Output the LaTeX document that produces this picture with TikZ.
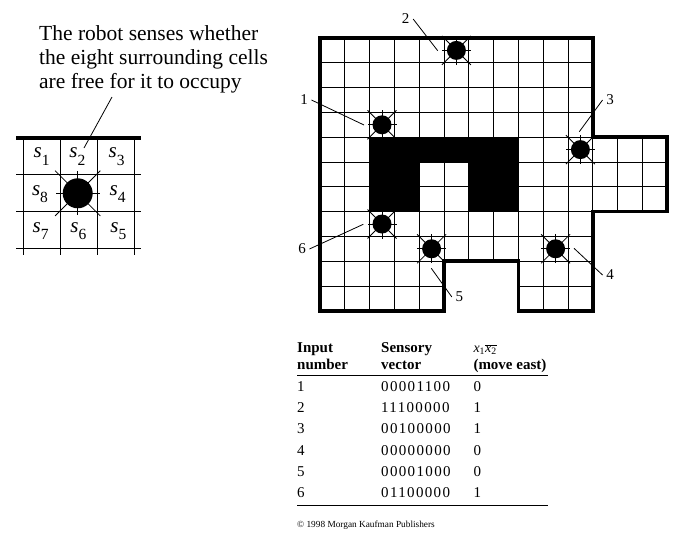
\documentclass[tikz,border=0pt]{standalone}
\usepackage{fontspec}
\setmainfont{Liberation Serif}
\newfontfamily\tablefont[LetterSpace=9]{Liberation Serif}
\usepackage{tikz}
\usetikzlibrary{positioning}

\newcommand{\sensorlab}[1]{\textit{s}\raisebox{-0.36em}{\fontsize{15.5}{15.5}\selectfont #1}}
\newcommand{\floorpath}{(0,0) -| (11,4) -| (14,7) -| (11,11) -| (8,9) -| (5,11) -| cycle}

\begin{document}
\begin{tikzpicture}[
    x=1pt, y=-1pt,
    every node/.style={font=\fontsize{15}{15}\selectfont, inner sep=0pt},
    callout/.style={font=\fontsize{21.5}{24}\selectfont, align=left, anchor=north west},
    sensor/.style={font=\fontsize{21}{21}\selectfont},
    numlab/.style={font=\fontsize{15}{15}\selectfont, inner sep=3.5pt},
    cell/.style={font=\tablefont\fontsize{15}{15}\selectfont, anchor=base west},
    head/.style={font=\bfseries\fontsize{15}{15}\selectfont, anchor=base west},
    gridline/.style={draw, line width=0.8pt},
    leader/.style={draw, line width=0.8pt},
    robot/.style={circle, fill=black, minimum size=19pt},
    bigrobot/.style={circle, fill=black, minimum size=30pt},
    rulerow/.style={draw, line width=0.9pt}
]
\useasboundingbox (0,0) rectangle (679,546);

% left panel
\node[callout] (callout) at (39,25.5) {The robot senses whether\\the eight surrounding cells\\are free for it to occupy};
\foreach \xx in {23.3,60.3,97.3,134.3}
    \draw[gridline] (\xx,137.7) -- (\xx,255);
\foreach \yy in {174.3,211.3,248.3}
    \draw[gridline] (16,\yy) -- (140.7,\yy);
\draw[line width=3.6pt] (16,137.7) -- (140.7,137.7);
\node[bigrobot] (sensed) at (77.7,193.3) {};
\foreach \ang in {0,90,180,270}
    \draw[gridline] (sensed.center) -- ++(\ang:22);
\foreach \ang in {45,135,225,315}
    \draw[gridline] (sensed.center) -- ++(\ang:32);
\node[sensor] (s1) at (41.7,156.5) {\sensorlab{1}};
\node[sensor] (s2) at (77.3,156.5) {\sensorlab{2}};
\node[sensor] (s3) at (116.7,156.5) {\sensorlab{3}};
\node[sensor] (s4) at (117.7,194) {\sensorlab{4}};
\node[sensor] (s5) at (118.3,231) {\sensorlab{5}};
\node[sensor] (s6) at (78.3,231) {\sensorlab{6}};
\node[sensor] (s7) at (40.7,231) {\sensorlab{7}};
\node[sensor] (s8) at (40,194) {\sensorlab{8}};
\coordinate (calloutend) at (112,97);
\coordinate (s2end) at (84,148);
\draw[leader] (calloutend) -- (s2end);

% floor plan
\begin{scope}[shift={(320,38)}, x=24.8pt, y=-24.8pt]
    \begin{scope}
        \clip \floorpath;
        \foreach \cx in {1,...,13}
            \draw[gridline] (\cx,0) -- (\cx,11);
        \foreach \cy in {1,...,10}
            \draw[gridline] (0,\cy) -- (14,\cy);
    \end{scope}
    \fill[black] (2,4) -| (8,7) -| (6,5) -| (4,7) -| cycle;
    \draw[line width=3.5pt] \floorpath;
    \foreach \cx/\cy/\name in {2/3/1, 5/0/2, 10/4/3, 9/8/4, 4/8/5, 2/7/6} {
        \node[robot] (robot\name) at (\cx+0.5,\cy+0.5) {};
        \foreach \ang in {0,90,180,270}
            \draw[gridline] (robot\name.center) -- ++(\ang:14.5pt);
        \foreach \ang in {45,135,225,315}
            \draw[gridline] (robot\name.center) -- ++(\ang:20.5pt);
    }
\end{scope}

% numbered leaders
\node[numlab] (lab1) at (304,100) {1};
\node[numlab] (lab2) at (405.7,19) {2};
\node[numlab] (lab3) at (610,100) {3};
\node[numlab] (lab4) at (610,275) {4};
\node[numlab] (lab5) at (459.3,297) {5};
\node[numlab] (lab6) at (302,249) {6};
\coordinate (end1) at (364,125);
\coordinate (end2) at (437.7,50.7);
\coordinate (end3) at (579.3,131.7);
\coordinate (end4) at (574,248.3);
\coordinate (end5) at (431.3,268.3);
\coordinate (end6) at (363.3,224.3);
\draw[leader] (lab1.east) -- (end1);
\draw[leader] (lab2.east) -- (end2);
\draw[leader] (lab3.west) -- (end3);
\draw[leader] (lab4.west) -- (end4);
\draw[leader] (lab5.west) -- (end5);
\draw[leader] (lab6.east) -- (end6);

% table
\node[head] (hinput) at (297,352.7) {Input};
\node[head] (hnumber) at (297,369) {number};
\node[head] (hsensory) at (381,352.7) {Sensory};
\node[head] (hvector) at (381,369) {vector};
\node[anchor=base west, font=\fontsize{14}{14}\selectfont] (hterm) at (473.3,352.7) {\textit{x}\textsubscript{1}$\overline{\mbox{\textit{x}\textsubscript{2}}}$};
\node[head] (heast) at (473.3,369) {(move east)};
\coordinate (topl) at (297,375.7);
\coordinate (topr) at (547.7,375.7);
\coordinate (botl) at (297,505);
\coordinate (botr) at (547.7,505);
\draw[rulerow] (topl) -- (topr);
\draw[rulerow] (botl) -- (botr);
\foreach \vecval/\moveval [count=\i] in {00001100/0, 11100000/1, 00100000/1, 00000000/0, 00001000/0, 01100000/1} {
    \node[cell] (num\i) at (297,369.7+21.35*\i) {\i};
    \node[cell] (vec\i) at (381,369.7+21.35*\i) {\vecval};
    \node[cell] (move\i) at (473.5,369.7+21.35*\i) {\moveval};
}
\node[anchor=base west, font=\fontsize{9.3}{9.3}\selectfont] (copy) at (297,527) {© 1998 Morgan Kaufman Publishers};
\end{tikzpicture}
\end{document}
